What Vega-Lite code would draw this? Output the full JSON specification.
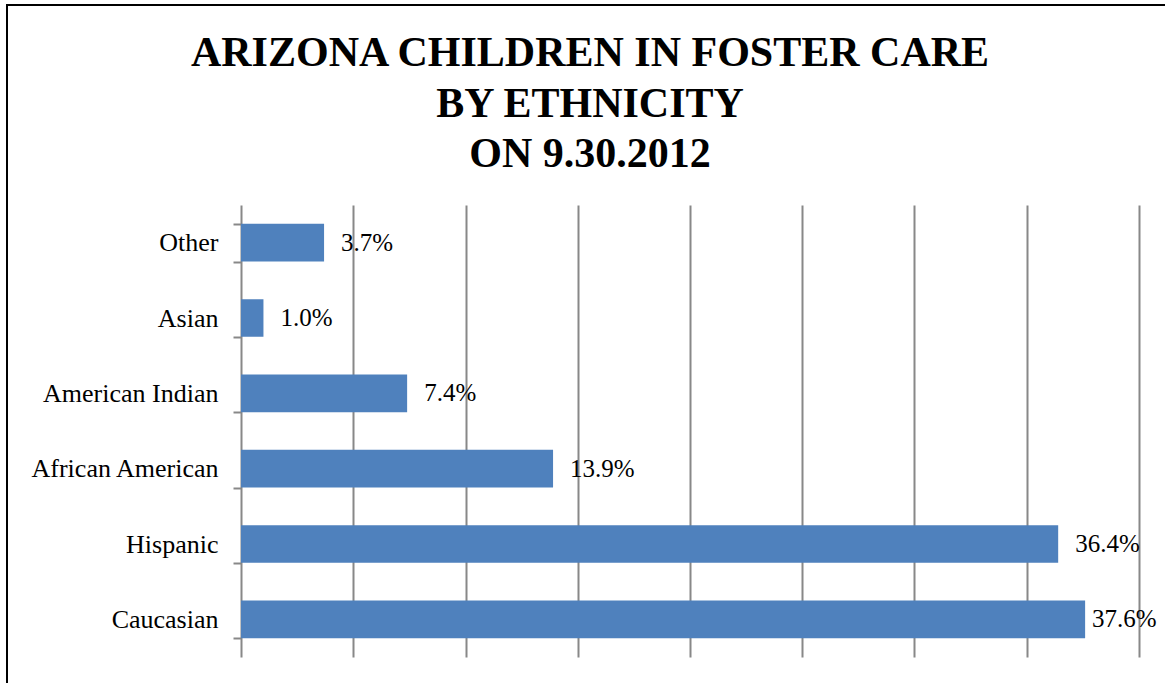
{
  "$schema": "https://vega.github.io/schema/vega-lite/v6.json",
  "width": 1158,
  "height": 678,
  "autosize": {"type": "none"},
  "padding": {"left": 7, "top": 5, "right": 0, "bottom": 0},
  "background": "white",
  "config": {
    "view": {"stroke": "black", "strokeWidth": 2, "strokeDash": [1158, 1836, 678]},
    "font": "Liberation Serif"
  },
  "title": {
    "text": ["ARIZONA CHILDREN IN FOSTER CARE", "BY ETHNICITY", "ON 9.30.2012"],
    "font": "Liberation Serif",
    "fontSize": 42,
    "fontWeight": "bold",
    "color": "black",
    "anchor": "middle",
    "frame": "group",
    "baseline": "top",
    "offset": -184,
    "lineHeight": 50.5,
    "dx": 4
  },
  "data": {
    "values": [
      {"ethnicity": "Other", "value": 0.037},
      {"ethnicity": "Asian", "value": 0.010},
      {"ethnicity": "American Indian", "value": 0.074},
      {"ethnicity": "African American", "value": 0.139},
      {"ethnicity": "Hispanic", "value": 0.364},
      {"ethnicity": "Caucasian", "value": 0.376}
    ]
  },
  "encoding": {
    "y": {
      "field": "ethnicity",
      "type": "nominal",
      "sort": ["Other", "Asian", "American Indian", "African American", "Hispanic", "Caucasian"],
      "scale": {"range": [200, 652], "paddingInner": 0.5, "paddingOuter": 0.25},
      "axis": {
        "title": null,
        "offset": -234,
        "tickBand": "extent",
        "tickSize": 8,
        "tickColor": "#888888",
        "tickWidth": 2,
        "domainColor": "#888888",
        "domainWidth": 2,
        "labelFontSize": 26,
        "labelColor": "black",
        "labelFont": "Liberation Serif",
        "labelPadding": 15,
        "labelLimit": 0,
        "grid": false
      }
    },
    "x": {
      "field": "value",
      "type": "quantitative",
      "scale": {"domain": [0, 0.4], "range": [234, 1132], "nice": false, "zero": true},
      "axis": {
        "orient": "top",
        "title": null,
        "labels": false,
        "ticks": false,
        "domain": false,
        "grid": true,
        "values": [0.05, 0.1, 0.15, 0.2, 0.25, 0.3, 0.35, 0.4],
        "gridColor": "#888888",
        "gridWidth": 2,
        "gridOpacity": 1
      }
    }
  },
  "layer": [
    {"mark": {"type": "bar", "color": "#4F81BD"}},
    {
      "transform": [{"filter": "datum.value < 0.37"}],
      "mark": {"type": "text", "align": "left", "baseline": "middle", "dx": 17, "fontSize": 25, "color": "black", "font": "Liberation Serif"},
      "encoding": {"text": {"field": "value", "type": "quantitative", "format": ".1%"}}
    },
    {
      "transform": [{"filter": "datum.value >= 0.37"}],
      "mark": {"type": "text", "align": "left", "baseline": "middle", "dx": 7, "fontSize": 25, "color": "black", "font": "Liberation Serif"},
      "encoding": {"text": {"field": "value", "type": "quantitative", "format": ".1%"}}
    }
  ]
}
